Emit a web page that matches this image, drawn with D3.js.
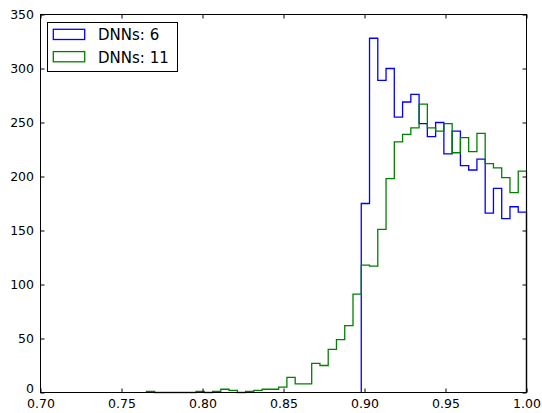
<!DOCTYPE html>
<html>
<head>
<meta charset="utf-8">
<script src="https://cdn.jsdelivr.net/npm/d3@7"></script>
<style>
html,body{margin:0;padding:0;background:#fff;}
svg{display:block;font-family:"DejaVu Sans",sans-serif;}
</style>
</head>
<body>
<svg id="chart" width="542" height="413"></svg>
<script>
// ---- data ----
const binWidth = 0.0051;
const blueStart = 0.898;
const greenStart = 0.898 - 26 * 0.0051;
const blueCounts = [175, 328, 289, 300, 255, 269, 276, 249, 237, 250, 221, 242, 210, 206, 216, 166, 189, 161, 172, 167];
const greenCounts = [1, 0, 0, 0, 0, 0, 1, 0, 1, 3, 2, 0, 1, 2, 3, 3, 5, 14, 8, 8, 27, 25, 40, 49, 62, 91,
  118, 117, 151, 198, 232, 239, 245, 267, 245, 242, 249, 222, 236, 223, 240, 212, 208, 199, 185, 205];
const seriesNames = ["DNNs: 6", "DNNs: 11"];
const seriesColors = ["#0000ff", "#008000"];
const xTicks = [0.70, 0.75, 0.80, 0.85, 0.90, 0.95, 1.00];
const yTicks = [0, 50, 100, 150, 200, 250, 300, 350];

// ---- layout ----
const L = 40.5, R = 526.5, T = 14.5, B = 392.5;
const svg = d3.select("#chart");
const x = d3.scaleLinear().domain([0.70, 1.00]).range([L, R]);
const y = d3.scaleLinear().domain([0, 350]).range([B, T]);

function stepPath(start, counts) {
  const pts = [[x(start), y(0)]];
  counts.forEach((c, i) => {
    const x0 = start + i * binWidth, x1 = start + (i + 1) * binWidth;
    pts.push([x(x0), y(c)]);
    pts.push([x(x1), y(c)]);
  });
  pts.push([x(start + counts.length * binWidth), y(0)]);
  return d3.line()(pts);
}

const g = svg.append("g");
g.append("path").attr("d", stepPath(blueStart, blueCounts))
  .attr("fill", "none").attr("stroke", seriesColors[0]).attr("stroke-width", 1.3);
g.append("path").attr("d", stepPath(greenStart, greenCounts))
  .attr("fill", "none").attr("stroke", seriesColors[1]).attr("stroke-width", 1.3);

// ---- axes (ticks inward on all sides) ----
const tl = 4;
const axB = svg.append("g").attr("transform", `translate(0,${B})`)
  .call(d3.axisBottom(x).tickValues(xTicks).tickFormat(d3.format(".2f")).tickSizeInner(-tl).tickSizeOuter(0).tickPadding(6.5));
const axT = svg.append("g").attr("transform", `translate(0,${T})`)
  .call(d3.axisTop(x).tickValues(xTicks).tickFormat("").tickSizeInner(-tl).tickSizeOuter(0));
const axL = svg.append("g").attr("transform", `translate(${L},0)`)
  .call(d3.axisLeft(y).tickValues(yTicks).tickSizeInner(-tl).tickSizeOuter(0).tickPadding(6.5));
const axR = svg.append("g").attr("transform", `translate(${R},0)`)
  .call(d3.axisRight(y).tickValues(yTicks).tickFormat("").tickSizeInner(-tl).tickSizeOuter(0));
[axB, axT, axL, axR].forEach(a => {
  a.select(".domain").remove();
  a.selectAll(".tick line").attr("stroke", "#000");
  a.selectAll("text").attr("font-size", 12.5).attr("fill", "#000").attr("font-family", "DejaVu Sans");
});
axL.selectAll(".tick text").filter(d => d === 0).attr("dy", "0em");
svg.append("rect").attr("x", L).attr("y", T).attr("width", R - L).attr("height", B - T)
  .attr("fill", "none").attr("stroke", "#000").attr("stroke-width", 1);

// ---- legend ----
const lg = svg.append("g");
lg.append("rect").attr("x", 47.5).attr("y", 22.5).attr("width", 130).attr("height", 49)
  .attr("fill", "#fff").attr("stroke", "#000").attr("stroke-width", 1);
seriesNames.forEach((name, i) => {
  const yy = 29.3 + i * 22.3;
  lg.append("rect").attr("x", 53.3).attr("y", yy).attr("width", 31.4).attr("height", 10.2)
    .attr("fill", "none").attr("stroke", seriesColors[i]).attr("stroke-width", 1.3);
  lg.append("text").attr("x", 98).attr("y", 40 + i * 22.5).attr("font-size", 15)
    .attr("fill", "#000").text(name);
});
</script>
</body>
</html>
